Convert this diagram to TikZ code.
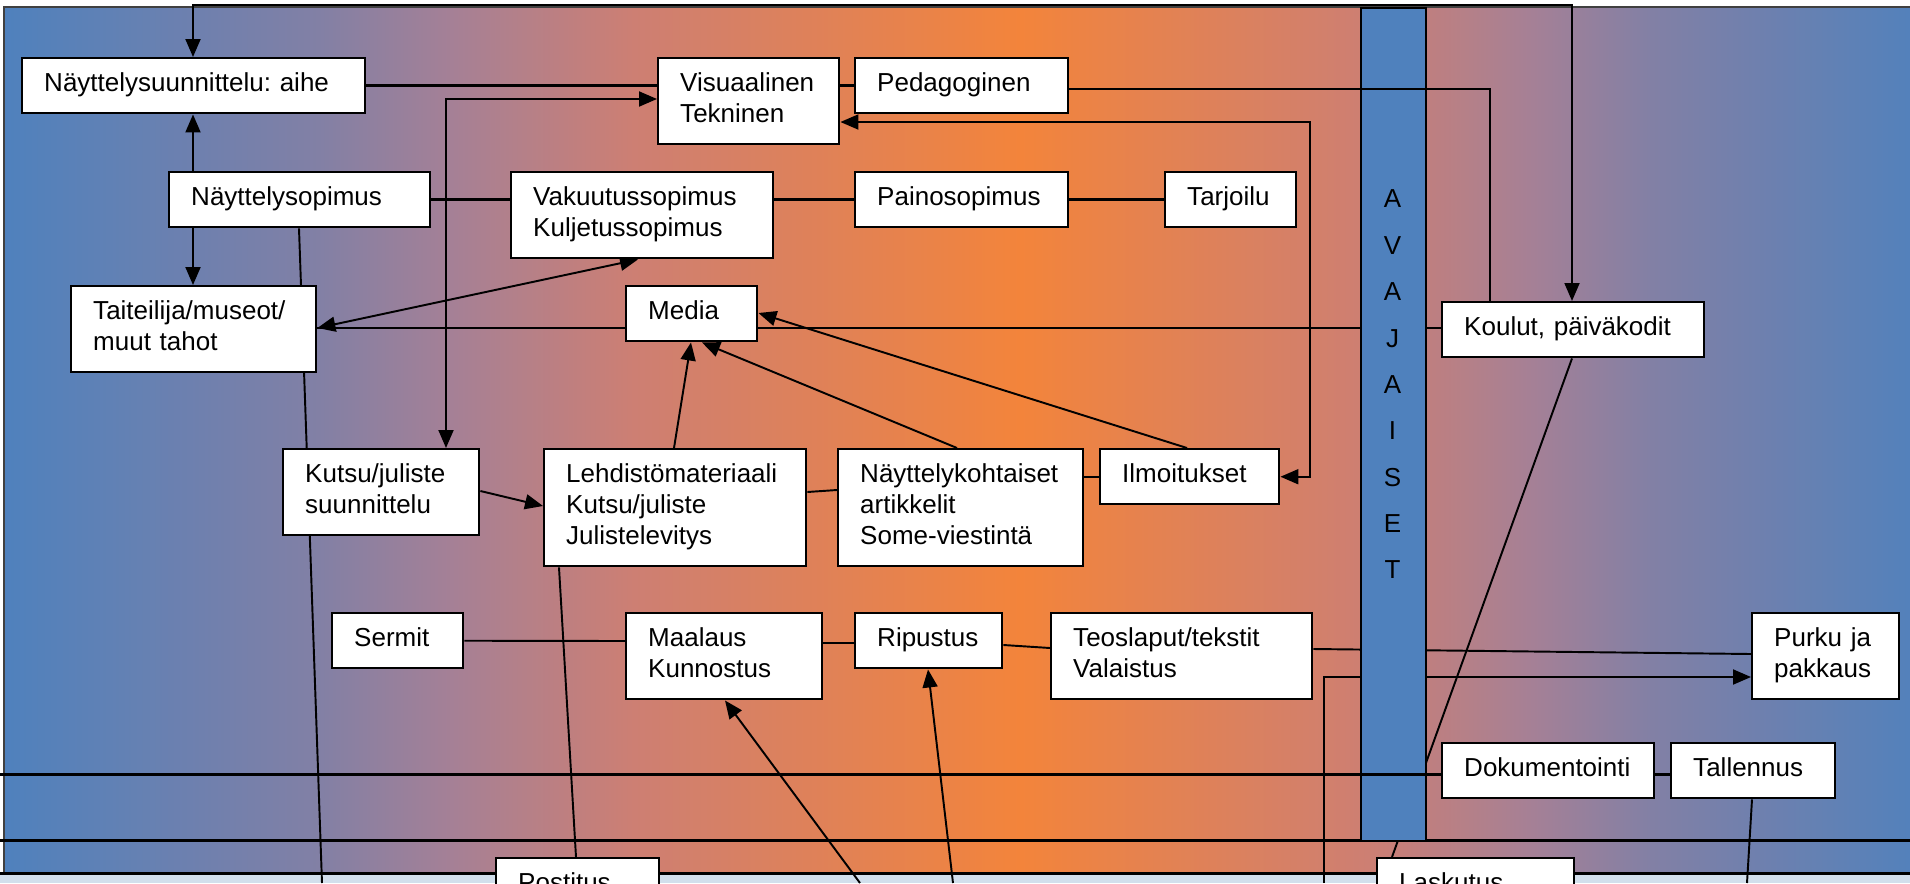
\documentclass[tikz,border=0pt]{standalone}
\usepackage{fontspec}
\setmainfont{Liberation Sans}
\usetikzlibrary{arrows.meta}
\definecolor{ablue}{RGB}{79,129,189}
\definecolor{aorange}{RGB}{243,132,59}
\definecolor{gviol}{RGB}{130,128,165}
\definecolor{gmauve}{RGB}{165,128,150}
\definecolor{gsalm}{RGB}{205,127,115}
\definecolor{aband}{RGB}{210,223,236}
\pgfdeclarehorizontalshading{bgrise}{100bp}{color(0bp)=(ablue); color(25bp)=(ablue); color(40.5bp)=(gviol); color(47bp)=(gmauve); color(56bp)=(gsalm); color(75bp)=(aorange); color(100bp)=(aorange)}
\pgfdeclarehorizontalshading{bgfall}{100bp}{color(0bp)=(aorange); color(25bp)=(aorange); color(44bp)=(gsalm); color(53bp)=(gmauve); color(59.5bp)=(gviol); color(75bp)=(ablue); color(100bp)=(ablue)}
\newcommand{\procfont}{\fontsize{14.8pt}{17.6pt}\selectfont\frenchspacing\hyphenpenalty=10000}
\newcommand{\avajfont}{\fontsize{14.8pt}{26.4pt}\selectfont}
\pgfdeclarelayer{backdrop}
\pgfdeclarelayer{wires}
\pgfdeclarelayer{front}
\pgfsetlayers{backdrop,wires,main,front}
\tikzset{
  procbox/.style={draw,line width=1.4pt,fill=white,anchor=north west,align=left,inner xsep=0.44cm,inner ysep=0pt,font=\procfont,execute at begin node=\strut,execute at end node=\strut},
  onerow/.style={procbox,minimum height=1.1cm},
  tworow/.style={procbox,minimum height=1.72cm},
  threerow/.style={procbox,minimum height=2.34cm},
  conn/.style={line width=1.1pt},
  connthick/.style={line width=1.7pt},
  connarr/.style={conn,->},
  connboth/.style={conn,<->}
}

\begin{document}
\begin{tikzpicture}[x=0.02cm,y=-0.02cm,>={Triangle[length=0.36cm,width=0.3cm]}]
  \useasboundingbox (0,0) rectangle (1910,883);

  % taustan liukuväri
  \begin{pgfonlayer}{backdrop}
    \shade[shading=bgrise] (4,7) rectangle (1020,873);
    \shade[shading=bgfall] (1020,7) rectangle (1935,873);
    \draw[line width=0.8pt,black!75] (1935,7) -- (4,7) -- (4,873);
    \fill[aband] (0,873) rectangle (1910,883);
    \draw[connthick] (0,873) -- (1910,873);
  \end{pgfonlayer}

  \node[onerow,text width=5.98cm] (suun) at (21,57) {Näyttelysuunnittelu: aihe};
  \node[onerow,text width=4.34cm] (nsop) at (168,171) {Näyttelysopimus};
  \node[tworow,text width=4.02cm] (tait) at (70,285) {Taiteilija/museot/\\muut tahot};
  \node[tworow,text width=2.74cm] (visu) at (657,57) {Visuaalinen\\Tekninen};
  \node[onerow,text width=3.38cm] (peda) at (854,57) {Pedagoginen};
  \node[tworow,text width=4.36cm] (vaku) at (510,171) {Vakuutussopimus\\Kuljetussopimus};
  \node[onerow,text width=3.38cm] (paino) at (854,171) {Painosopimus};
  \node[onerow,text width=1.74cm] (tarj) at (1164,171) {Tarjoilu};
  \node[onerow,text width=1.74cm] (media) at (625,285) {Media};
  \node[onerow,text width=4.36cm] (koul) at (1441,301) {Koulut, päiväkodit};
  \node[tworow,text width=3.04cm] (kutsu) at (282,448) {Kutsu/juliste\\suunnittelu};
  \node[threerow,text width=4.36cm] (lehd) at (543,448) {Lehdistömateriaali\\Kutsu/juliste\\Julistelevitys};
  \node[threerow,text width=4.02cm] (nkoht) at (837,448) {Näyttelykohtaiset\\artikkelit\\Some-viestintä};
  \node[onerow,text width=2.70cm] (ilmo) at (1099,448) {Ilmoitukset};
  \node[onerow,text width=1.74cm] (sermit) at (331,612) {Sermit};
  \node[tworow,text width=3.04cm] (maal) at (625,612) {Maalaus\\Kunnostus};
  \node[onerow,text width=2.06cm] (ripu) at (854,612) {Ripustus};
  \node[tworow,text width=4.34cm] (teos) at (1050,612) {Teoslaput/tekstit\\Valaistus};
  \node[tworow,text width=2.06cm] (purku) at (1751,612) {Purku ja\\pakkaus};
  \node[onerow,text width=3.36cm] (doku) at (1441,742) {Dokumentointi};
  \node[onerow,text width=2.40cm] (tall) at (1670,742) {Tallennus};
  \node[onerow,text width=2.38cm] (post) at (495,857) {Postitus};
  \node[onerow,text width=3.06cm] (lask) at (1376,857) {Laskutus};

  % avajaiset-palkki
  \node[draw,fill=ablue,line width=1.1pt,anchor=north west,minimum width=1.3cm,minimum height=16.66cm,inner sep=0pt] (avaj) at (1360,7) {};
  \node[font=\avajfont,align=center,inner sep=0pt] (avajtxt) at (1392.5,384.5) {A\\V\\A\\J\\A\\I\\S\\E\\T};

  \coordinate (bA) at (322,883);
  \coordinate (bB) at (1324,883);
  \coordinate (bC) at (860,883);
  \coordinate (bD) at (953,883);
  \coordinate (bE) at (1747,883);
  \coordinate (rowL) at (0,840);
  \coordinate (rowR) at (1910,840);
  \coordinate (lineL) at (0,774);

  \begin{pgfonlayer}{wires}
    \draw[connboth] (suun.north -| 193,0) |- (1572,5) -- (koul.north -| 1572,0);
    \draw[connarr] (nsop.north -| 193,0) -- (suun.south -| 193,0);
    \draw[connarr] (nsop.south -| 193,0) -- (tait.north -| 193,0);
    \draw[conn] (nsop.south -| 299,0) -- (bA);
    \draw[connthick] (suun.east) -- (visu.west |- suun.east);
    \draw[connboth] (kutsu.north -| 446,0) |- (visu.west |- 0,99);
    \draw[connthick] (visu.east |- peda.west) -- (peda.west);
    \draw[connboth] (visu.east |- 0,122) -| (ilmo.east -| 1310,0) -- (ilmo.east);
    \draw[connthick] (nsop.east) -- (vaku.west |- nsop.east);
    \draw[connthick] (vaku.east |- paino.west) -- (paino.west);
    \draw[connthick] (paino.east) -- (tarj.west);
    \draw[connboth] (vaku.south -| 638,0) -- (tait.east |- 0,328);
    \draw[conn] (koul.west |- 0,328) -- (tait.east |- 0,328);
    \draw[connarr] (lehd.north -| 674,0) -- (media.south -| 691,0);
    \draw[connarr] (nkoht.north -| 957,0) -- (media.south -| 702,0);
    \draw[connarr] (ilmo.north -| 1187,0) -- (media.east |- 0,313);
    \draw[connarr] (kutsu.east |- 0,491) -- (lehd.west |- 0,506);
    \draw[conn] (lehd.east |- 0,492) -- (nkoht.west |- 0,490);
    \draw[conn] (nkoht.east |- ilmo.west) -- (ilmo.west);
    \draw[conn] (lehd.south -| 559,0) -- (post.north -| 576,0);
    \draw[conn] (sermit.east) -- (maal.west |- 0,641);
    \draw[conn] (maal.east |- 0,643) -- (ripu.west |- 0,643);
    \draw[conn] (ripu.east |- 0,645) -- (teos.west |- 0,648);
    \draw[conn] (teos.east |- 0,649) -- (purku.west |- 0,654);
    \draw[connarr] (bB) |- (purku.west |- 0,677);
    \draw[connarr] (bC) -- (maal.south -| 725,0);
    \draw[connarr] (bD) -- (ripu.south -| 928,0);
    \draw[conn] (koul.south -| 1572,0) -- (lask.north -| 1392,0);
    \draw[connthick] (doku.east |- 0,774) -- (tall.west |- 0,774);
    \draw[conn] (tall.south -| 1752,0) -- (bE);
    \draw[connthick] (rowL) -- (rowR);
  \end{pgfonlayer}

  \begin{pgfonlayer}{front}
    \draw[conn] (peda.east |- 0,89) -| (koul.north -| 1490,0);
    \draw[connthick] (lineL) -- (doku.west |- 0,774);
  \end{pgfonlayer}
\end{tikzpicture}
\end{document}
